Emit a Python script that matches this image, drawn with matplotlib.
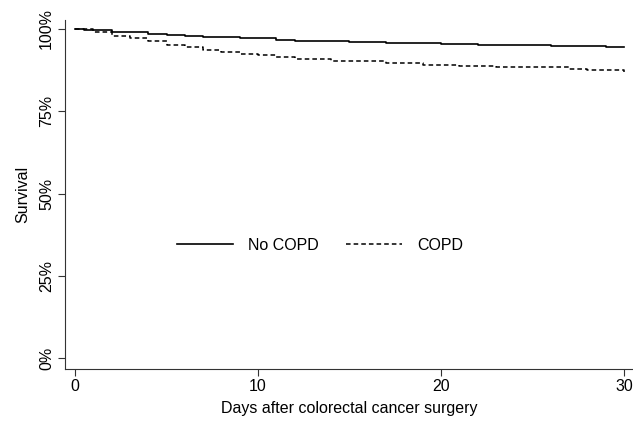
import numpy as np
import matplotlib
matplotlib.use('Agg')
import matplotlib.pyplot as plt

# Survival values (percent), step changes by day
days_no_copd = [0, 0.5, 2, 4, 5, 6, 7, 9, 11, 12, 15, 17, 20, 22, 26, 27, 29, 30]
surv_no_copd = [100, 99.7, 99.1, 98.4, 98.1, 97.8, 97.6, 97.1, 96.7, 96.4, 96.1,
                95.7, 95.4, 95.1, 94.8, 94.7, 94.5, 94.5]

days_copd = [0, 1, 2, 3, 4, 5, 6, 7, 8, 9, 10, 11, 12, 14, 17, 19, 21, 23, 27, 28, 30]
surv_copd = [100, 99.1, 97.9, 97.1, 96.3, 95.2, 94.5, 93.7, 93.0, 92.5, 92.0, 91.5,
             91.0, 90.2, 89.6, 89.1, 88.8, 88.4, 87.9, 87.5, 87.0]

x_ticks = [0, 10, 20, 30]
y_ticks = [0, 25, 50, 75, 100]
y_labels = ['0%', '25%', '50%', '75%', '100%']

plt.rcParams['font.family'] = ['Liberation Sans', 'DejaVu Sans']
plt.rcParams['font.size'] = 11.5

fig = plt.figure(figsize=(6.33, 4.25), dpi=100)
ax = fig.add_axes([65 / 633, 56 / 425, 568 / 633, 349 / 425])

# Kaplan-Meier style step curves
ax.plot(days_no_copd, surv_no_copd, drawstyle='steps-post', color='black', lw=1.2, label='No COPD')
ax.plot(days_copd, surv_copd, drawstyle='steps-post', color='black', lw=1.1,
        linestyle=(0, (3, 2)), label='COPD')

ax.set_xlim(-0.55, 30.5)
ax.set_ylim(-3.3, 102.7)

ax.set_xticks(x_ticks)
ax.set_yticks(y_ticks)
ax.set_yticklabels(y_labels, rotation=90, va='center')
ax.tick_params(axis='both', length=5, width=0.8, color='#333333', labelsize=11.5)
ax.tick_params(axis='y', pad=3)
ax.tick_params(axis='x', pad=2)

for side in ['top', 'right']:
    ax.spines[side].set_visible(False)
for side in ['left', 'bottom']:
    ax.spines[side].set_color('#333333')
    ax.spines[side].set_linewidth(0.8)

ax.set_xlabel('Days after colorectal cancer surgery', fontsize=11.5, labelpad=5)
ax.set_ylabel('Survival', fontsize=11.5, labelpad=6)

ax.legend(loc='center', bbox_to_anchor=(0.449, 0.355), ncol=2, frameon=False,
          handlelength=3.5, handletextpad=0.95, columnspacing=1.7, fontsize=11.5)

fig.savefig('out.png', dpi=100)
